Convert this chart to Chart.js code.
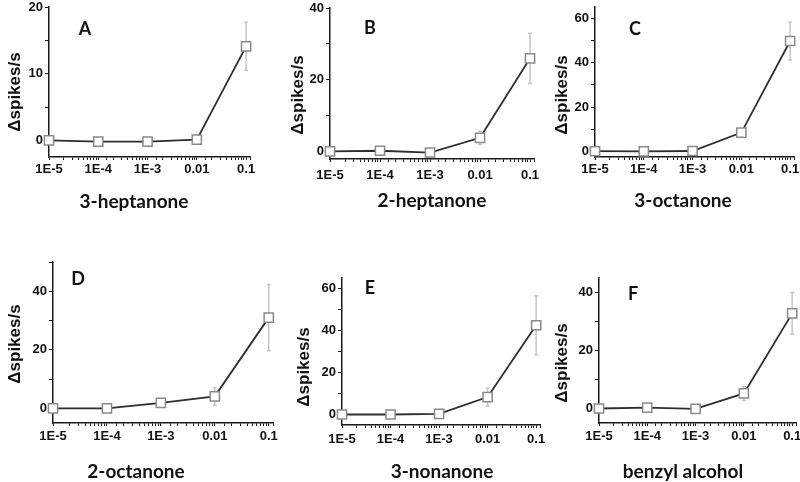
<!DOCTYPE html>
<html>
<head>
<meta charset="utf-8">
<script src="https://cdn.jsdelivr.net/npm/chart.js@4.4.1/dist/chart.umd.min.js"></script>
<style>
html, body { margin: 0; padding: 0; background: #fff; }
#wrap { position: relative; width: 800px; height: 482px; overflow: hidden; }
canvas { position: absolute; left: 0; top: 0; }
.lbl { position: absolute; transform: translate(-50%, -50%); white-space: nowrap; font-weight: bold; color: #111; }
.xt { font-family: Lato, sans-serif; font-size: 19px; }
.letter { font-family: Lato, sans-serif; font-size: 18px; }
.yt { font-family: "Liberation Sans", Arial, sans-serif; font-size: 17px; transform: translate(-50%, -50%) rotate(-90deg); }
</style>
</head>
<body>
<div id="wrap"></div>
<script>
// concentrations (log axis) and their tick labels
const concentrations = [1e-5, 1e-4, 1e-3, 0.01, 0.1];
const xTickLabels = ['1E-5', '1E-4', '1E-3', '0.01', '0.1'];
const odorants = ['3-heptanone', '2-heptanone', '3-octanone', '2-octanone', '3-nonanone', 'benzyl alcohol'];
const panelLetters = ['A', 'B', 'C', 'D', 'E', 'F'];
const yAxisTitle = '\u0394spikes/s';

// mean response per concentration
const heptanone3 = [0, -0.2, -0.2, 0.1, 14.1];
const heptanone2 = [0.1, 0.3, -0.2, 3.9, 26];
const octanone3 = [0.1, 0, 0.2, 8.5, 49.7];
const octanone2 = [0, 0, 1.9, 4.1, 31];
const nonanone3 = [0, 0, 0.3, 8.3, 42.5];
const benzylAlcohol = [0, 0.3, -0.1, 5.2, 32.8];

// error bars (+/-)
const heptanone3Err = [0, 0, 0, 0.5, 3.6];
const heptanone2Err = [0, 0, 0, 1.9, 7];
const octanone3Err = [0, 0, 0, 1.5, 8.5];
const octanone2Err = [0, 0, 0.5, 3, 11.3];
const nonanone3Err = [0, 0, 0, 4.3, 14];
const benzylAlcoholErr = [0, 0, 0, 2.4, 7.2];

// y axes
const yMins = [-2.5, -2, -2.5, -5, -5, -5];
const yMaxs = [20, 40, 65, 50, 65, 45];
const yMajorTicks = [[0, 10, 20], [0, 20, 40], [0, 20, 40, 60], [0, 20, 40], [0, 20, 40, 60], [0, 20, 40]];
const yMinorTicks = [[5, 15], [10, 30], [10, 30, 50], [10, 30, 50], [10, 30, 50], [10, 30]];

const seriesValues = [heptanone3, heptanone2, octanone3, octanone2, nonanone3, benzylAlcohol];
const seriesErrors = [heptanone3Err, heptanone2Err, octanone3Err, octanone2Err, nonanone3Err, benzylAlcoholErr];

// where each panel sits on the page (chart area + text)
const panels = [
    { left: 49, right: 250, top: 7, bottom: 157, xTitle: [134, 200], yTitle: [15, 92], letter: [85, 28], tickPad: 2 },
    { left: 330, right: 534, top: 8, bottom: 159, xTitle: [432, 199], yTitle: [298, 95], letter: [370, 27], tickPad: 6 },
    { left: 595, right: 794, top: 7, bottom: 157, xTitle: [683, 199], yTitle: [562, 95], letter: [635, 28], tickPad: 2 },
    { left: 53, right: 273, top: 262, bottom: 423, xTitle: [136, 470], yTitle: [15, 344], letter: [78, 278], tickPad: 3 },
    { left: 342, right: 540, top: 278, bottom: 425, xTitle: [442, 470], yTitle: [304, 367], letter: [370, 287], tickPad: 4 },
    { left: 599, right: 796, top: 278, bottom: 423, xTitle: [683, 470], yTitle: [562, 363], letter: [633, 293], tickPad: 3 }
];

const W = 800, H = 482;
const Y_AXIS_W = 40, X_AXIS_H = 30;
const axisColor = '#1a1a1a';

Chart.defaults.font.family = '"Liberation Sans", Arial, sans-serif';
Chart.defaults.font.size = 13;
Chart.defaults.font.weight = 'bold';
Chart.defaults.color = '#111';

const errorBarPlugin = {
    id: 'errorBars',
    beforeDatasetsDraw(chart, args, opts) {
        const ctx = chart.ctx;
        const x = chart.scales.x, y = chart.scales.y;
        const pts = chart.data.datasets[0].data;
        ctx.save();
        ctx.strokeStyle = '#c6c6c6';
        ctx.lineWidth = 1.5;
        pts.forEach((pt, i) => {
            const e = opts.errors[i];
            if (!e) return;
            const px = x.getPixelForValue(pt.x);
            const top = y.getPixelForValue(pt.y + e);
            const bot = y.getPixelForValue(pt.y - e);
            ctx.beginPath();
            ctx.moveTo(px, top); ctx.lineTo(px, bot);
            ctx.moveTo(px - 2, top); ctx.lineTo(px + 2, top);
            ctx.moveTo(px - 2, bot); ctx.lineTo(px + 2, bot);
            ctx.stroke();
        });
        ctx.restore();
    }
};

function xLabel(v) {
    const i = concentrations.findIndex(c => Math.abs(Math.log10(c) - Math.log10(v)) < 1e-6);
    return i >= 0 ? xTickLabels[i] : '';
}

function addText(cls, text, pos) {
    const d = document.createElement('div');
    d.className = 'lbl ' + cls;
    d.textContent = text;
    d.style.left = pos[0] + 'px';
    d.style.top = pos[1] + 'px';
    document.getElementById('wrap').appendChild(d);
}

panels.forEach((p, k) => {
    const canvas = document.createElement('canvas');
    canvas.width = W;
    canvas.height = H;
    document.getElementById('wrap').appendChild(canvas);

    const majors = yMajorTicks[k];
    const allTicks = majors.concat(yMinorTicks[k]).sort((a, b) => a - b);

    new Chart(canvas.getContext('2d'), {
        type: 'line',
        data: {
            datasets: [{
                data: concentrations.map((c, i) => ({ x: c, y: seriesValues[k][i] })),
                borderColor: '#2e2e2e',
                borderWidth: 1.8,
                pointStyle: 'rect',
                pointRadius: 6.5,
                pointBorderColor: '#8a8a8a',
                pointBorderWidth: 1.5,
                pointBackgroundColor: '#fff',
                tension: 0,
                clip: false
            }]
        },
        options: {
            responsive: false,
            animation: false,
            layout: {
                autoPadding: false,
                padding: {
                    left: p.left - Y_AXIS_W,
                    right: W - p.right,
                    top: p.top,
                    bottom: H - p.bottom - X_AXIS_H
                }
            },
            plugins: {
                legend: { display: false },
                tooltip: { enabled: false },
                errorBars: { errors: seriesErrors[k] }
            },
            scales: {
                x: {
                    type: 'logarithmic',
                    min: 1e-5,
                    max: 0.12,
                    afterFit: s => { s.height = X_AXIS_H; s.paddingLeft = 0; s.paddingRight = 0; },
                    ticks: {
                        autoSkip: false,
                        maxRotation: 0,
                        minRotation: 0,
                        padding: p.tickPad,
                        callback: v => xLabel(v)
                    },
                    grid: { drawOnChartArea: false, drawTicks: true, tickLength: 3, tickColor: axisColor, tickWidth: 1 },
                    border: { display: true, color: axisColor, width: 1.5 }
                },
                y: {
                    type: 'linear',
                    min: yMins[k],
                    max: yMaxs[k],
                    afterBuildTicks: s => { s.ticks = allTicks.map(v => ({ value: v })); },
                    afterFit: s => { s.width = Y_AXIS_W; s.paddingTop = 0; s.paddingBottom = 0; },
                    ticks: {
                        autoSkip: false,
                        padding: 2,
                        callback: v => majors.includes(v) ? String(v) : ''
                    },
                    grid: { drawOnChartArea: false, drawTicks: true, tickLength: 4, tickColor: axisColor, tickWidth: 1 },
                    border: { display: true, color: axisColor, width: 1.5 }
                }
            }
        },
        plugins: [errorBarPlugin]
    });

    addText('xt', odorants[k], p.xTitle);
    addText('yt', yAxisTitle, p.yTitle);
    addText('letter', panelLetters[k], p.letter);
});
</script>
</body>
</html>
